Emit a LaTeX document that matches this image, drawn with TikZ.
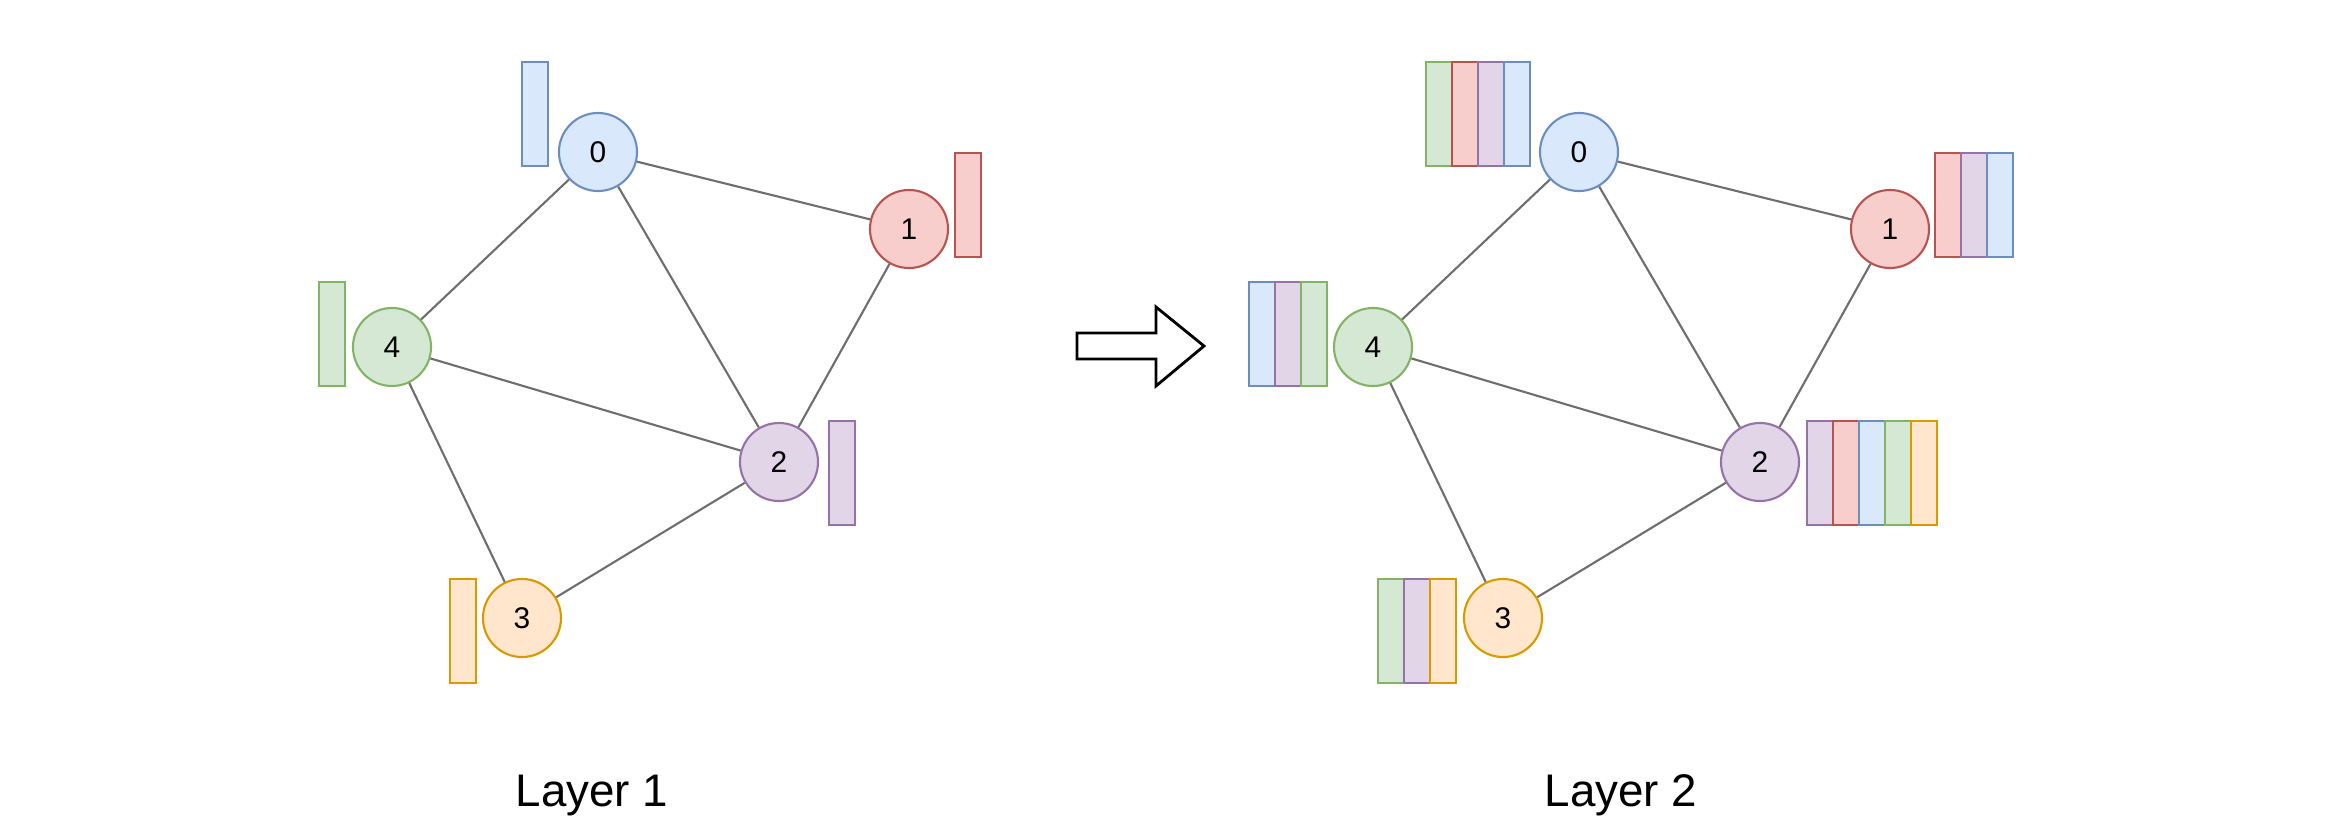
\documentclass[tikz,border=0pt]{standalone}
\usepackage{fontspec}
\setmainfont{Liberation Sans}
\definecolor{bluefill}{HTML}{DAE8FC}\definecolor{bluedraw}{HTML}{6C8EBF}
\definecolor{redfill}{HTML}{F8CECC}\definecolor{reddraw}{HTML}{B85450}
\definecolor{greenfill}{HTML}{D5E8D4}\definecolor{greendraw}{HTML}{82B366}
\definecolor{purplefill}{HTML}{E1D5E7}\definecolor{purpledraw}{HTML}{9673A6}
\definecolor{orangefill}{HTML}{FFE6CC}\definecolor{orangedraw}{HTML}{D79B00}
\definecolor{edgegray}{HTML}{6E6E6E}
\tikzset{
  vtx/.style={circle, draw=#1draw, fill=#1fill, line width=0.6pt, minimum size=0.78cm, inner sep=0pt, font=\fontsize{8.5}{10}\selectfont},
  bar/.style={rectangle, draw=#1draw, fill=#1fill, line width=0.6pt, minimum width=0.26cm, minimum height=1.04cm, inner sep=0pt},
  edge/.style={draw=edgegray, line width=0.6pt},
  layer/.style={font=\fontsize{13}{15}\selectfont, anchor=base}
}
\begin{document}
\begin{tikzpicture}[x=0.01cm, y=-0.01cm]
    \useasboundingbox (0,0) rectangle (2335,833);
    \def\dx{981}
    % layer 1
    \node[vtx=blue]   (n0) at (598,152) {0};
    \node[vtx=red]    (n1) at (909,229) {1};
    \node[vtx=purple] (n2) at (779,462) {2};
    \node[vtx=orange] (n3) at (522,618) {3};
    \node[vtx=green]  (n4) at (392,347) {4};
    \foreach \a/\b in {0/1, 0/4, 0/2, 1/2, 4/2, 4/3, 3/2}
        \draw[edge] (n\a) -- (n\b);
    \node[bar=blue]   (b0) at (535,114) {};
    \node[bar=red]    (b1) at (968,205) {};
    \node[bar=purple] (b2) at (842,473) {};
    \node[bar=orange] (b3) at (463,631) {};
    \node[bar=green]  (b4) at (332,334) {};
    \node[layer] (l1) at (592,806) {Layer 1};
    % arrow
    \draw[line width=0.8pt, line join=miter] (1077,333) -- (1156,333) -- (1156,307) -- (1204,346)
        -- (1156,386) -- (1156,359) -- (1077,359) -- cycle;
    % layer 2
    \node[vtx=blue]   (m0) at (598+\dx,152) {0};
    \node[vtx=red]    (m1) at (909+\dx,229) {1};
    \node[vtx=purple] (m2) at (779+\dx,462) {2};
    \node[vtx=orange] (m3) at (522+\dx,618) {3};
    \node[vtx=green]  (m4) at (392+\dx,347) {4};
    \foreach \a/\b in {0/1, 0/4, 0/2, 1/2, 4/2, 4/3, 3/2}
        \draw[edge] (m\a) -- (m\b);
    \foreach \c [count=\i] in {green, red, purple, blue}
        \node[bar=\c] (c0\i) at (1413+26*\i,114) {};
    \foreach \c [count=\i] in {red, purple, blue}
        \node[bar=\c] (c1\i) at (1922+26*\i,205) {};
    \foreach \c [count=\i] in {purple, red, blue, green, orange}
        \node[bar=\c] (c2\i) at (1794+26*\i,473) {};
    \foreach \c [count=\i] in {green, purple, orange}
        \node[bar=\c] (c3\i) at (1365+26*\i,631) {};
    \foreach \c [count=\i] in {blue, purple, green}
        \node[bar=\c] (c4\i) at (1236+26*\i,334) {};
    \node[layer] (l2) at (1621,806) {Layer 2};
\end{tikzpicture}
\end{document}
